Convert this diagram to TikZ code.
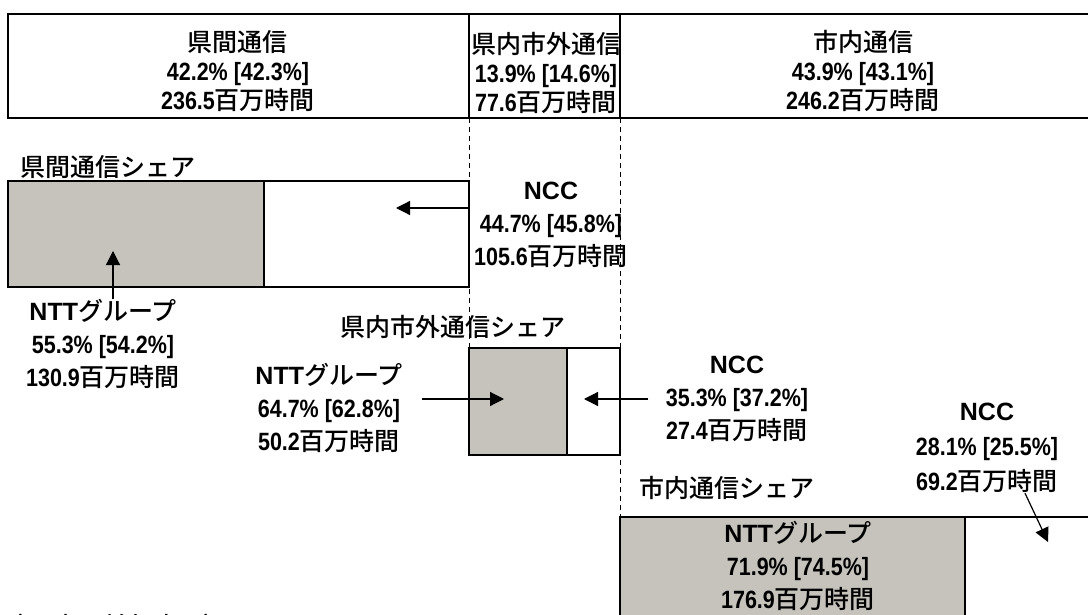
\documentclass[tikz,border=0pt]{standalone}
\usepackage{fontspec}
\setmainfont{Noto Sans CJK JP Medium}
\newfontfamily\latinfont{Liberation Sans}
\newfontfamily\narrowfont{Liberation Sans}[FakeStretch=0.86]
\usetikzlibrary{arrows.meta}
\definecolor{shareGray}{RGB}{198,195,189}
\newcommand\nm[1]{{\narrowfont\bfseries #1}}
\newcommand\latn[1]{{\latinfont\bfseries #1}}
\tikzset{lbl/.style = {align=center,inner sep=0pt,font=\fontsize{12.5}{16.5}\selectfont},
         arr/.style = {-{Triangle[length=7pt,width=7pt]},line width=0.6pt},
         guide/.style = {dash pattern=on 2.5pt off 2pt,line width=0.5pt},
         frame/.style = {line width=1pt}}

\begin{document}
\begin{tikzpicture}[x=0.5pt,y=-0.5pt]
\useasboundingbox (0,0) rectangle (1088,615);
% dashed guides
\draw[guide] (469,118) -- (469,348);
\draw[guide] (620,118) -- (620,517);
% top bar
\draw[frame] (8,14) rectangle (1110,118);
\draw[frame] (469,14) -- (469,118) (620,14) -- (620,118);
\node[lbl,font=\fontsize{12.5}{14.5}\selectfont] (inter) at (238,71) {県間通信\\\nm{42.2\% [42.3\%]}\\\nm{236.5}百万時間};
\node[lbl,font=\fontsize{12.5}{14.5}\selectfont] (intra) at (546,73) {県内市外通信\\\nm{13.9\% [14.6\%]}\\\nm{77.6}百万時間};
\node[lbl,font=\fontsize{12.5}{14.5}\selectfont] (local) at (863,71) {市内通信\\\nm{43.9\% [43.1\%]}\\\nm{246.2}百万時間};
% share bars
\fill[shareGray] (8,181) rectangle (264,287);
\draw[frame] (8,181) rectangle (469,287) (264,181) -- (264,287);
\fill[shareGray] (469,348) rectangle (567,455);
\draw[frame] (469,348) rectangle (620,455) (567,348) -- (567,455);
\fill[shareGray] (620,517) rectangle (965,640);
\draw[frame] (620,517) rectangle (1110,640) (965,517) -- (965,640);
% titles
\node[lbl,anchor=west] (interShare) at (20,167) {県間通信シェア};
\node[lbl] (intraShare) at (453,327) {県内市外通信シェア};
\node[lbl] (localShare) at (727,488) {市内通信シェア};
% values
\node[lbl] (nccInter) at (551,225) {\latn{NCC}\\\nm{44.7\% [45.8\%]}\\\nm{105.6}百万時間};
\node[lbl] (nttInter) at (103,344) {\latn{NTT}グループ\\\nm{55.3\% [54.2\%]}\\\nm{130.9}百万時間};
\node[lbl] (nttIntra) at (329,408) {\latn{NTT}グループ\\\nm{64.7\% [62.8\%]}\\\nm{50.2}百万時間};
\node[lbl] (nccIntra) at (737,399) {\latn{NCC}\\\nm{35.3\% [37.2\%]}\\\nm{27.4}百万時間};
\node[lbl,font=\fontsize{12.5}{17.5}\selectfont] (nccLocal) at (987,448) {\latn{NCC}\\\nm{28.1\% [25.5\%]}\\\nm{69.2}百万時間};
\node[lbl] (nttLocal) at (798,566) {\latn{NTT}グループ\\\nm{71.9\% [74.5\%]}\\\nm{176.9}百万時間};
\node[lbl,anchor=west] (note) at (-2,627) {（\latn{[\ \ ]}内は前年度。）};
% arrows
\coordinate (nccInterTip) at (396,208);
\coordinate (nttInterTip) at (113,251);
\coordinate (nttIntraTip) at (504,399);
\coordinate (nccIntraTip) at (584,399);
\coordinate (nccLocalTip) at (1048,542);
\draw[arr,shorten <=2pt] (nccInter.west |- nccInterTip) -- (nccInterTip);
\draw[arr] (nttInter.north -| nttInterTip) -- (nttInterTip);
\draw[arr,shorten <=9.5pt] (nttIntra.east |- nttIntraTip) -- (nttIntraTip);
\draw[arr,shorten <=8.5pt] (nccIntra.west |- nccIntraTip) -- (nccIntraTip);
\draw[arr] ([xshift=19pt]nccLocal.south) -- (nccLocalTip);
\end{tikzpicture}
\end{document}
